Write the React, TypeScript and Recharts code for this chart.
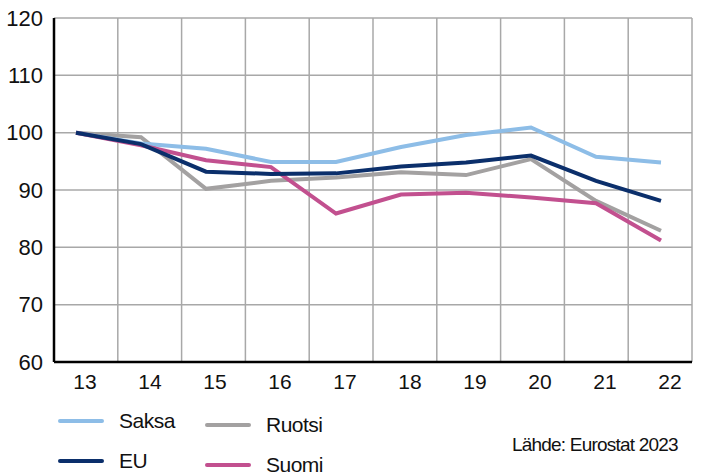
import { LineChart, Line, XAxis, YAxis, CartesianGrid } from 'recharts';

const years = ['13', '14', '15', '16', '17', '18', '19', '20', '21', '22'];
const saksa = [100, 98.1, 97.2, 94.9, 94.9, 97.5, 99.6, 100.9, 95.8, 94.8];
const eu = [100, 98.0, 93.2, 92.8, 92.9, 94.1, 94.8, 96.0, 91.6, 88.1];
const ruotsi = [100, 99.2, 90.2, 91.6, 92.2, 93.1, 92.6, 95.4, 88.1, 82.9];
const suomi = [100, 97.8, 95.2, 94.0, 85.9, 89.2, 89.5, 88.7, 87.7, 81.2];
const yTicks = [60, 70, 80, 90, 100, 110, 120];

const data = years.map((year, i) => ({
  year,
  saksa: saksa[i],
  eu: eu[i],
  ruotsi: ruotsi[i],
  suomi: suomi[i],
}));

const font = '"Liberation Sans Narrow", "Liberation Sans", Arial, sans-serif';

const series = [
  { key: 'ruotsi', name: 'Ruotsi', color: '#a3a1a1', col: 1, row: 0 },
  { key: 'saksa', name: 'Saksa', color: '#8dbde7', col: 0, row: 0 },
  { key: 'suomi', name: 'Suomi', color: '#c2508f', col: 1, row: 1 },
  { key: 'eu', name: 'EU', color: '#0b2f6b', col: 0, row: 1 },
];

// grid lines split the plot into equal bands, one per year
const gridX = ({ offset }: any) =>
  Array.from({ length: years.length + 1 }, (_, i) => offset.left + (i * offset.width) / years.length);

export default function App() {
  return (
    <div style={{ position: 'absolute', left: 0, top: 0, width: 701, height: 474, overflow: 'hidden', background: '#fff', fontFamily: font }}>
      <LineChart width={701} height={474} data={data} margin={{ top: 18, right: 9, bottom: 82, left: 0 }}>
        <CartesianGrid stroke="#a8a8a8" strokeWidth={1.5} verticalCoordinatesGenerator={gridX} />
        <XAxis
          dataKey="year"
          height={30}
          padding={{ left: 22, right: 31 }}
          tickLine={false}
          tickSize={0}
          tickMargin={12}
          axisLine={{ stroke: '#000', strokeWidth: 2.5 }}
          tick={{ fill: '#111', fontSize: 21, dx: 9, fontFamily: font }}
          interval={0}
        />
        <YAxis
          domain={[60, 120]}
          ticks={yTicks}
          width={54}
          tickLine={false}
          tickSize={0}
          tickMargin={11}
          axisLine={{ stroke: '#000', strokeWidth: 2.5 }}
          tick={{ fill: '#111', fontSize: 22, fontFamily: font }}
          interval={0}
        />
        {series.map((s) => (
          <Line
            key={s.key}
            dataKey={s.key}
            name={s.name}
            stroke={s.color}
            strokeWidth={4}
            dot={false}
            activeDot={false}
            isAnimationActive={false}
          />
        ))}
      </LineChart>
      {series.map((s) => (
        <div
          key={s.key}
          style={{ position: 'absolute', left: 58 + s.col * 147, top: 407 + s.row * 40 + s.col * 4, display: 'flex', alignItems: 'center', height: 28 }}
        >
          <div style={{ width: 46, height: 4, borderRadius: 2, background: s.color }} />
          <span style={{ marginLeft: 15, fontSize: 21, color: '#111', whiteSpace: 'nowrap', letterSpacing: -0.5 }}>{s.name}</span>
        </div>
      ))}
      <div style={{ position: 'absolute', left: 512, top: 434, fontSize: 19, color: '#111', whiteSpace: 'nowrap', letterSpacing: -0.8 }}>
        Lähde: Eurostat 2023
      </div>
    </div>
  );
}
